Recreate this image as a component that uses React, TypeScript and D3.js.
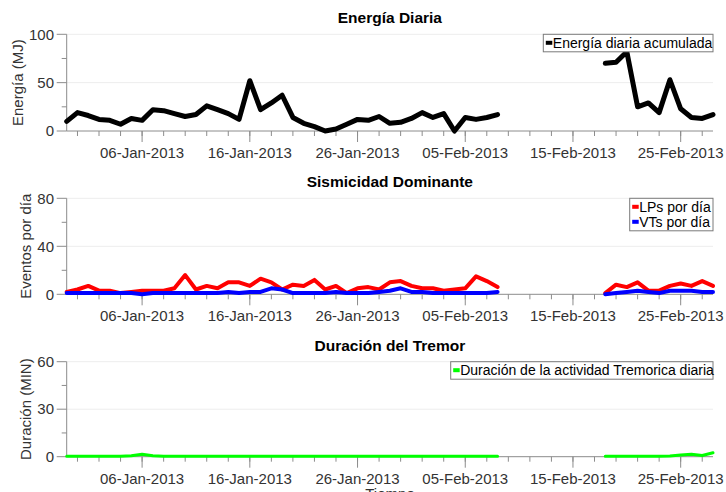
import React from 'react';
import * as d3 from 'd3';

// ---------- DATA ----------
const startDate = new Date(2012, 11, 30);
const endDate = new Date(2013, 1, 28);

// Daily values from 30-Dec-2012 to 28-Feb-2013 (null = no data)
const energia: (number | null)[] = [
  10, 19, 16, 12, 11, 7, 13, 11, 22, 21,
  18, 15, 17, 26, 22, 18, 12, 52, 22, 29,
  37, 14, 8, 4.5, 0, 2, 7, 12, 11, 15,
  8, 9, 13, 19, 14, 18, 0, 14, 12, 14,
  17, null, null, null, null, null, null, null, null, null,
  70, 71, 82, 25, 29, 19, 53, 23, 14, 13,
  17,
];
const lps: (number | null)[] = [
  2, 4, 7, 3, 3, 1, 2, 3, 3, 3,
  5, 16, 4, 7, 5, 10, 10, 7, 13, 10,
  4, 8, 7, 12, 4, 7, 1, 5, 6, 4,
  10, 11, 7, 5, 5, 3, 4, 5, 15, 11,
  6, null, null, null, null, null, null, null, null, null,
  1, 8, 6, 10, 3, 3, 7, 9, 7, 11,
  7,
];
const vts: (number | null)[] = [
  1, 1, 1, 1, 1, 1, 1, 0, 1, 1,
  1, 1, 1, 1, 1, 2, 1, 2, 2, 5,
  4, 1, 1, 1, 1, 2, 1, 1, 1, 2,
  3, 5, 2, 2, 1, 1, 1, 1, 1, 1,
  2, null, null, null, null, null, null, null, null, null,
  0, 1, 2, 3, 2, 1, 3, 3, 3, 2,
  2,
];
const tremor: (number | null)[] = [
  0.3, 0.3, 0.3, 0.3, 0.3, 0.3, 0.6, 1.5, 0.6, 0.3,
  0.3, 0.3, 0.3, 0.3, 0.3, 0.3, 0.3, 0.3, 0.3, 0.3,
  0.3, 0.3, 0.3, 0.3, 0.3, 0.3, 0.3, 0.3, 0.3, 0.3,
  0.3, 0.3, 0.3, 0.3, 0.3, 0.3, 0.3, 0.3, 0.3, 0.3,
  0.3, null, null, null, null, null, null, null, null, null,
  0.3, 0.3, 0.3, 0.3, 0.3, 0.3, 0.4, 1.0, 1.5, 0.8,
  2.5,
];

const xTickDates = [
  new Date(2013, 0, 6), new Date(2013, 0, 16), new Date(2013, 0, 26),
  new Date(2013, 1, 5), new Date(2013, 1, 15), new Date(2013, 1, 25),
];
const xTickLabels = ['06-Jan-2013', '16-Jan-2013', '26-Jan-2013', '05-Feb-2013', '15-Feb-2013', '25-Feb-2013'];

// ---------- LAYOUT ----------
const W = 726;
const H = 492;
const FONT = '"Liberation Sans", Arial, Helvetica, sans-serif';
const AXIS = '#8c8c8c';
const TXT = '#333333';
const x = d3.scaleTime().domain([startDate, endDate]).range([66.7, 713]);
const minorDates = d3.timeDay.range(d3.timeDay.offset(startDate, 1), endDate, 2);

type Series = { values: (number | null)[]; color: string; width: number; label: string };
type PanelProps = {
  top: number; bottom: number; max: number; majors: number[]; minors: number[];
  title: string; ylabel: string; ylabelX: number; series: Series[]; legendWidth: number;
};

function Panel(p: PanelProps) {
  const y = d3.scaleLinear().domain([0, p.max]).range([p.bottom, p.top]);
  const [x0, x1] = x.range();
  const lineGen = d3.line<number | null>()
    .defined((d) => d !== null)
    .x((_, i) => x(d3.timeDay.offset(startDate, i)))
    .y((d) => y(d as number))
    .curve(d3.curveLinear);
  const legH = 17.5 + (p.series.length - 1) * 15;
  const legX = x1 - p.legendWidth;
  return (
    <g>
      <text x={(x0 + x1) / 2} y={p.top - 11} textAnchor="middle" fontSize={15.5} fontWeight="bold" fill="#000">{p.title}</text>
      {p.majors.filter((v) => v > 0).map((v) => (
        <line key={'g' + v} x1={x0} x2={x1} y1={y(v)} y2={y(v)} stroke="#ededed" strokeWidth={1} />
      ))}
      {/* y axis */}
      <line x1={x0} x2={x0} y1={p.top} y2={p.bottom} stroke={AXIS} strokeWidth={1} />
      {p.majors.map((v) => (
        <g key={'ym' + v}>
          <line x1={x0 - 10} x2={x0} y1={y(v)} y2={y(v)} stroke={AXIS} />
          <text x={54} y={y(v)} dy="0.35em" textAnchor="end" fontSize={15} fill={TXT}>{v}</text>
        </g>
      ))}
      {p.minors.map((v) => (
        <line key={'yn' + v} x1={x0 - 5} x2={x0} y1={y(v)} y2={y(v)} stroke={AXIS} />
      ))}
      <text transform={`translate(${p.ylabelX},${(p.top + p.bottom) / 2}) rotate(-90)`} textAnchor="middle" fontSize={15} fill={TXT}>{p.ylabel}</text>
      {/* x axis */}
      <line x1={x0} x2={x1} y1={p.bottom} y2={p.bottom} stroke={AXIS} strokeWidth={1} />
      {minorDates.map((d, i) => (
        <line key={'xn' + i} x1={x(d)} x2={x(d)} y1={p.bottom} y2={p.bottom + 5} stroke={AXIS} />
      ))}
      {xTickDates.map((d, i) => (
        <g key={'xm' + i}>
          <line x1={x(d)} x2={x(d)} y1={p.bottom} y2={p.bottom + 11} stroke={AXIS} />
          <text x={x(d)} y={p.bottom + 27} textAnchor="middle" fontSize={15} fill={TXT}>{xTickLabels[i]}</text>
        </g>
      ))}
      {/* series */}
      {p.series.map((s, i) => (
        <path key={'s' + i} d={lineGen(s.values) || ''} fill="none" stroke={s.color} strokeWidth={s.width} strokeLinejoin="round" strokeLinecap="round" />
      ))}
      {/* legend */}
      <rect x={legX} y={p.top} width={p.legendWidth} height={legH} fill="#fff" stroke="#7a7a7a" strokeWidth={1} />
      {p.series.map((s, i) => (
        <g key={'l' + i}>
          <rect x={legX + 2.5} y={p.top + 6.5 + i * 15} width={6.5} height={4} fill={s.color} />
          <text x={legX + 9.5} y={p.top + 13.5 + i * 15} fontSize={14} fill="#000">{s.label}</text>
        </g>
      ))}
    </g>
  );
}

export default function App() {
  return (
    <svg width={W} height={H} style={{ position: 'absolute', left: 0, top: 0, background: '#fff' }} fontFamily={FONT}>
      <rect x={0} y={0} width={W} height={H} fill="#fff" />
      <Panel top={34.3} bottom={131} max={100} majors={[0, 50, 100]} minors={[25, 75]}
        title="Energía Diaria" ylabel="Energía (MJ)" ylabelX={23} legendWidth={169.7}
        series={[{ values: energia, color: '#000000', width: 5, label: 'Energía diaria acumulada' }]} />
      <Panel top={198.3} bottom={294.3} max={80} majors={[0, 40, 80]} minors={[20, 60]}
        title="Sismicidad Dominante" ylabel="Eventos por día" ylabelX={30.5} legendWidth={83.3}
        series={[
          { values: lps, color: '#ff0000', width: 4, label: 'LPs por día' },
          { values: vts, color: '#0000ff', width: 4, label: 'VTs por día' },
        ]} />
      <Panel top={361.7} bottom={456.7} max={60} majors={[0, 30, 60]} minors={[15, 45]}
        title="Duración del Tremor" ylabel="Duración (MIN)" ylabelX={30.5} legendWidth={262.3}
        series={[{ values: tremor, color: '#00ff00', width: 3, label: 'Duración de la actividad Tremorica diaria' }]} />
      <text x={390} y={499} textAnchor="middle" fontSize={15} fill={TXT}>Tiempo</text>
    </svg>
  );
}
